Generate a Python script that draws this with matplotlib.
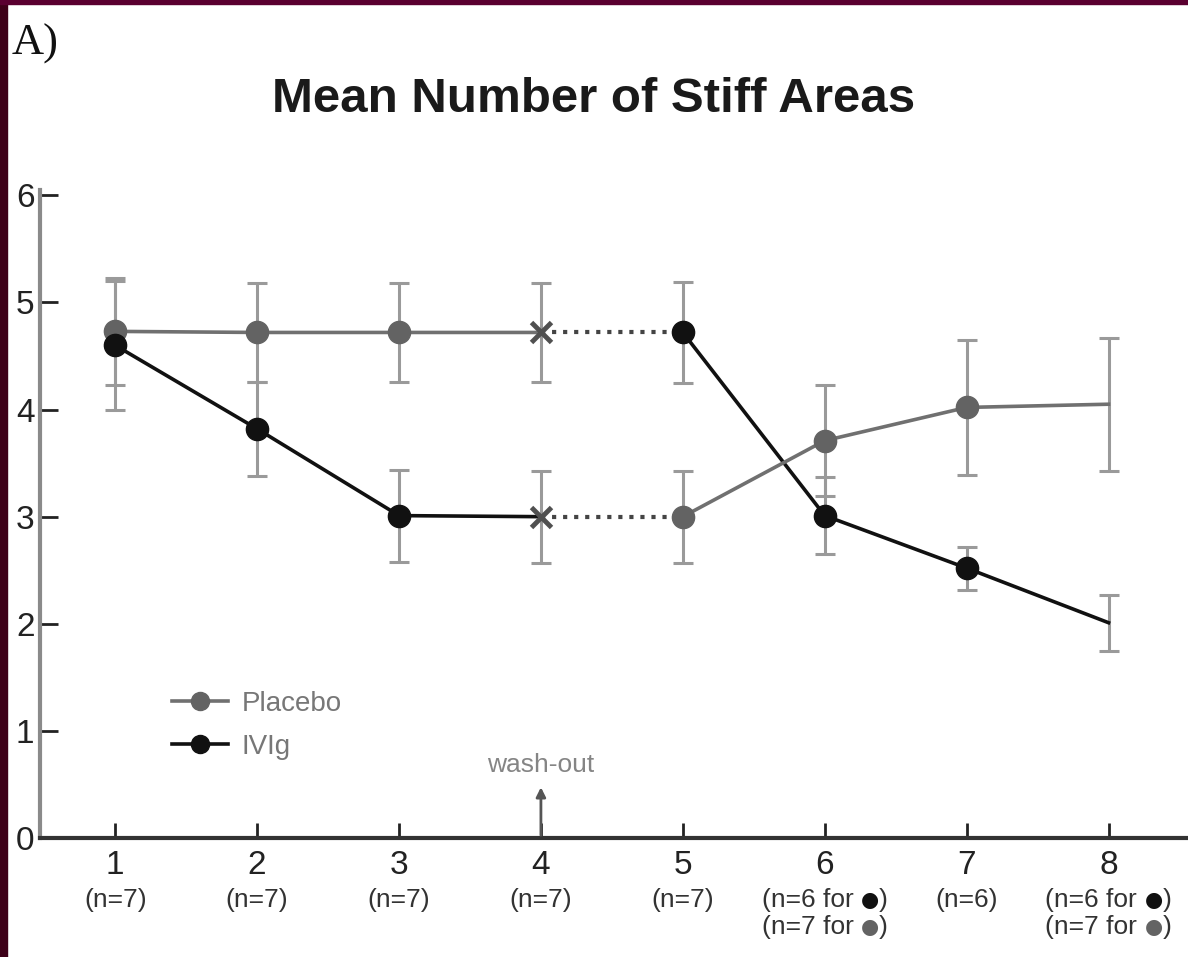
import matplotlib
matplotlib.use("Agg")
import matplotlib.pyplot as plt
from matplotlib.lines import Line2D
from matplotlib.patches import Rectangle
from matplotlib.offsetbox import TextArea, HPacker, VPacker, AnnotationBbox

# Data
visits = [1, 2, 3, 4, 5, 6, 7, 8]
# group 1: placebo at visits 1-4, then IVIg at visits 5-8
grp1_mean = [4.73, 4.72, 4.72, 4.72, 4.72, 3.01, 2.52, 2.01]
grp1_err = [0.50, 0.46, 0.46, 0.46, 0.47, 0.36, 0.20, 0.26]
# group 2: IVIg at visits 1-4, then placebo at visits 5-8
grp2_mean = [4.60, 3.82, 3.01, 3.00, 3.00, 3.71, 4.02, 4.05]
grp2_err = [0.60, 0.44, 0.43, 0.43, 0.43, 0.52, 0.63, 0.62]

# sample sizes under each tick: plain text or (n text, dot colour key)
n_labels = [
    ["n=7"], ["n=7"], ["n=7"], ["n=7"], ["n=7"],
    [("n=6", "ivig"), ("n=7", "placebo")],
    ["n=6"],
    [("n=6", "ivig"), ("n=7", "placebo")],
]

GRAY = "#636363"
GRAY_LINE = "#707070"
BLACK = "#111111"
ERR = "#9a9a9a"
DOTS = "#444444"
dot_col = {"ivig": BLACK, "placebo": GRAY}

plt.rcParams["font.family"] = ["Liberation Sans", "DejaVu Sans"]

fig = plt.figure(figsize=(11.88, 9.57), dpi=100)
ax = fig.add_axes([40 / 1188, 119 / 957, 1 - 40 / 1188, 648 / 957])

# error bars behind everything
for m, e in [(grp1_mean, grp1_err), (grp2_mean, grp2_err)]:
    ax.errorbar(visits, m, yerr=e, fmt="none", ecolor=ERR, elinewidth=2.2,
                capsize=7.5, capthick=2.2, zorder=1)


def draw_group(mean, col1, lc1, col2, lc2):
    # first period, solid line
    ax.plot(visits[:4], mean[:4], color=lc1, lw=2.6, zorder=2)
    ax.plot(visits[:3], mean[:3], "o", color=col1, ms=16, zorder=4)
    ax.plot(visits[3:4], mean[3:4], "x", color="#505050", ms=15, mew=3.5, zorder=4)
    # wash-out, dotted
    ax.plot(visits[3:5], mean[3:5], ":", color=DOTS, lw=3, zorder=2)
    # second period
    ax.plot(visits[4:], mean[4:], color=lc2, lw=2.6, zorder=2)
    ax.plot(visits[4:7], mean[4:7], "o", color=col2, ms=16, zorder=4)


draw_group(grp1_mean, GRAY, GRAY_LINE, BLACK, BLACK)
draw_group(grp2_mean, BLACK, BLACK, GRAY, GRAY_LINE)

ax.set_xlim(0.47, 8.56)
ax.set_ylim(0, 6.05)
ax.set_xticks(visits)
ax.set_yticks(range(7))
ax.tick_params(axis="both", direction="in", labelsize=24, colors="#222222")
ax.tick_params(axis="y", length=13, width=2, pad=4)
ax.tick_params(axis="x", length=11, width=2, pad=9)
for s in ["top", "right"]:
    ax.spines[s].set_visible(False)
ax.spines["left"].set_color("#8a8a8a")
ax.spines["left"].set_linewidth(3)
ax.spines["bottom"].set_color("#333333")
ax.spines["bottom"].set_linewidth(3)
ax.set_facecolor("white")

# n labels below the tick numbers
nprops = dict(fontsize=19, color="#333333")
for x, lines in zip(visits, n_labels):
    rows = []
    for item in lines:
        if isinstance(item, str):
            rows.append(TextArea("(" + item + ")", textprops=nprops))
        else:
            txt, key = item
            rows.append(HPacker(children=[
                TextArea("(" + txt + " for ", textprops=nprops),
                TextArea("\u25cf", textprops=dict(fontsize=15, color=dot_col[key],
                                                  family="DejaVu Sans")),
                TextArea(")", textprops=nprops),
            ], align="center", pad=0, sep=0))
    box = VPacker(children=rows, align="center", pad=0, sep=2)
    ab = AnnotationBbox(box, (x, 0), xycoords=("data", "axes fraction"),
                        xybox=(0, -36), boxcoords="offset points",
                        box_alignment=(0.5, 1), frameon=False, pad=0,
                        annotation_clip=False)
    ax.add_artist(ab)

# wash-out marker
ax.annotate("", xy=(4, 0.5), xytext=(4, 0.0),
            arrowprops=dict(arrowstyle="-|>", color="#555555", lw=2, mutation_scale=14))
ax.text(4, 0.68, "wash-out", ha="center", va="center", fontsize=19, color="#858585")

# legend
handles = [
    Line2D([], [], color=GRAY_LINE, lw=2.6, marker="o", ms=13, mfc=GRAY, mec=GRAY),
    Line2D([], [], color=BLACK, lw=2.6, marker="o", ms=13, mfc=BLACK, mec=BLACK),
]
leg = ax.legend(handles, ["Placebo", "IVIg"], loc="upper left",
                bbox_to_anchor=(0.115, 0.227), frameon=False, fontsize=20,
                handlelength=2.0, handletextpad=0.5, labelspacing=0.6,
                borderpad=0, borderaxespad=0)
for t in leg.get_texts():
    t.set_color("#777777")

# title and panel label
fig.text(0.5, 1 - 99 / 957, "Mean Number of Stiff Areas", ha="center", va="center",
         fontsize=35.5, fontweight="bold", color="#1a1a1a")
fig.text(12 / 1188, 1 - 44 / 957, "A)", ha="left", va="center", fontsize=32,
         family="Liberation Serif", color="#111111")

# dark maroon frame edges of the original slide
maroon = "#3d0018"
fig.patches.append(Rectangle((0, 0), 7 / 1188, 1, transform=fig.transFigure,
                             color=maroon, zorder=10))
fig.patches.append(Rectangle((0, 1 - 4 / 957), 1, 4 / 957, transform=fig.transFigure,
                             color="#5a0030", zorder=10))

fig.savefig("out.png", dpi=100, facecolor="white")
